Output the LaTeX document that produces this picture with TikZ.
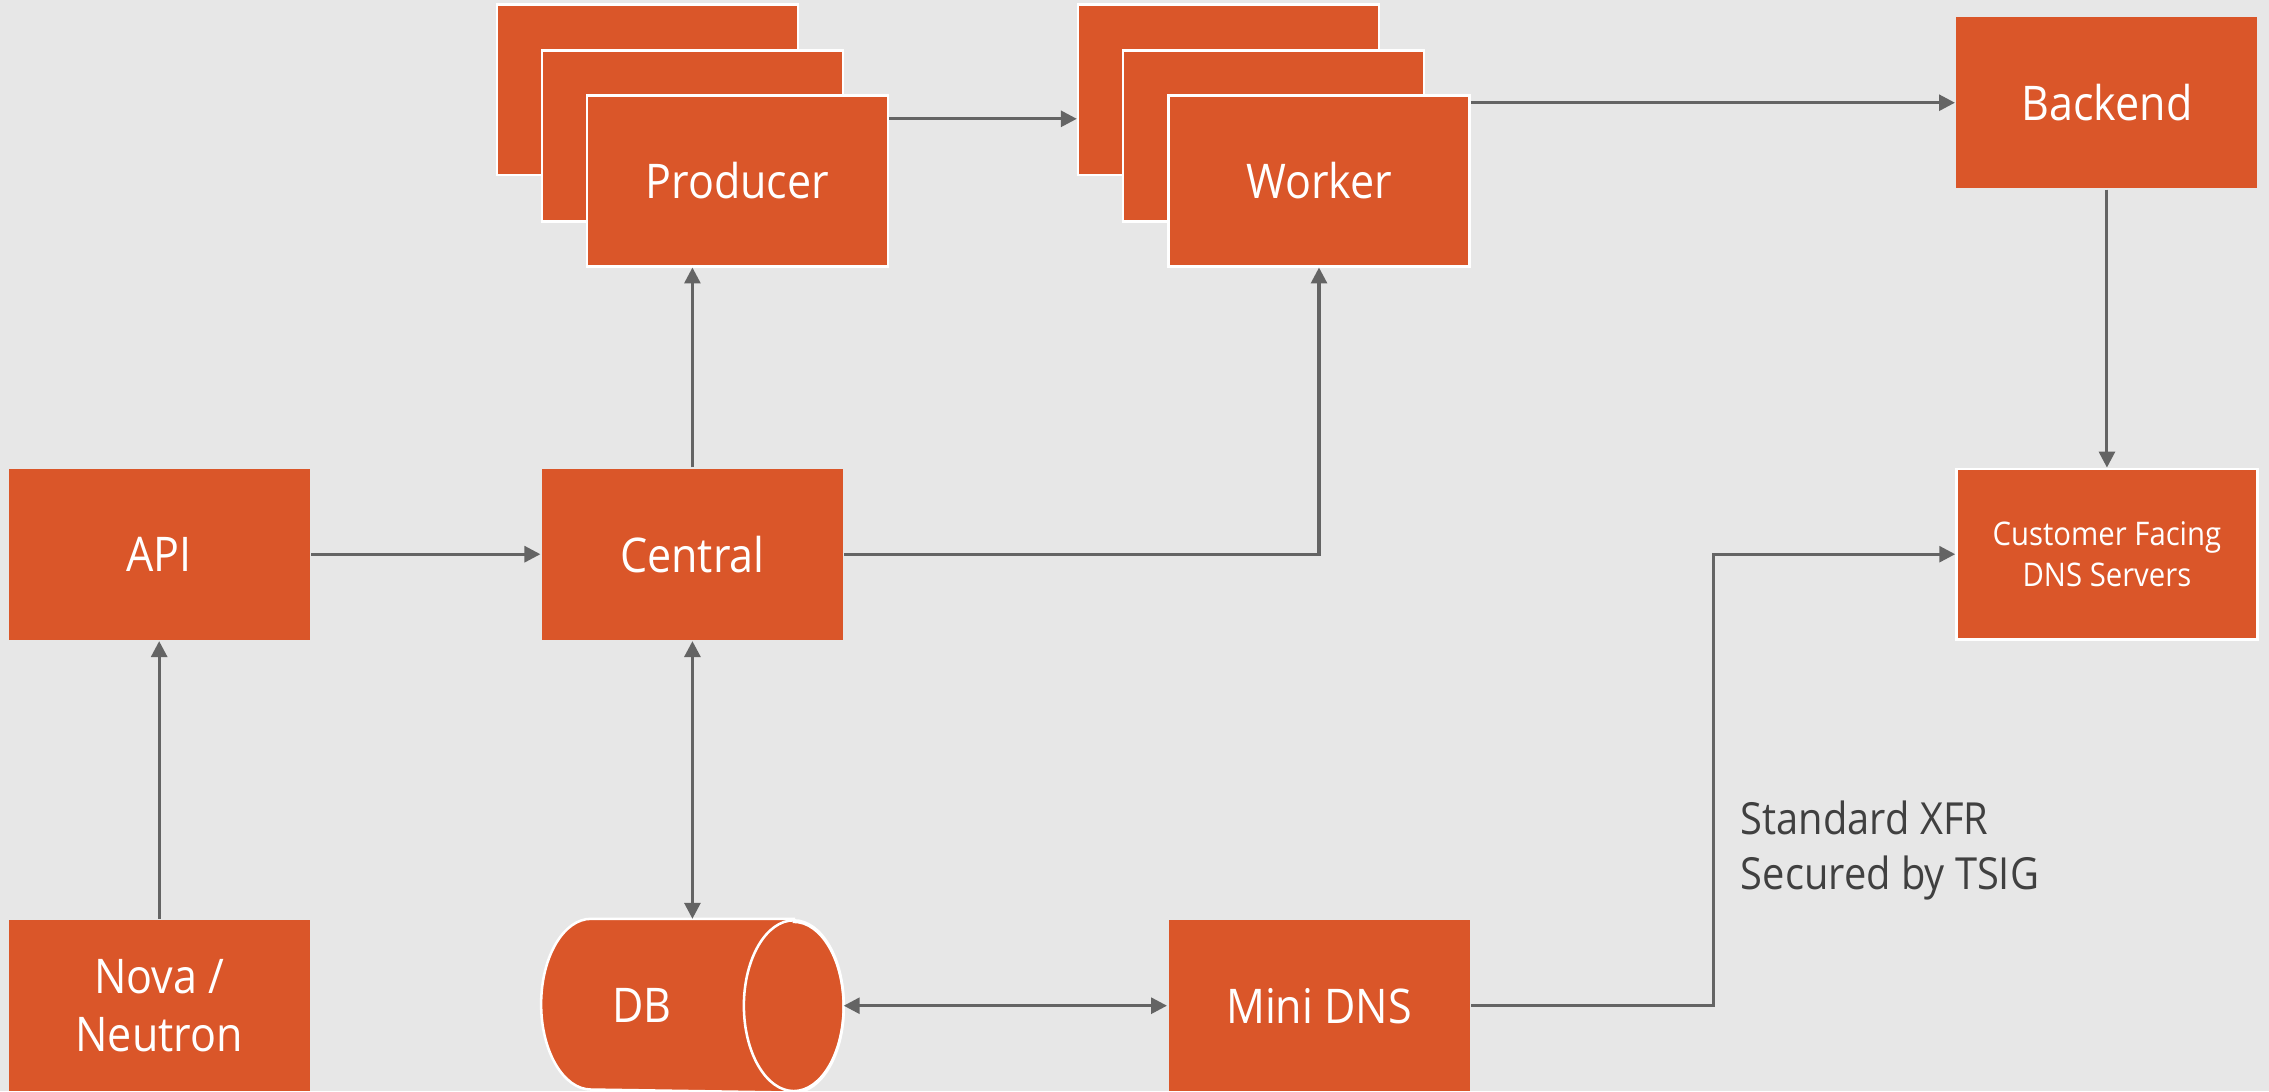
\documentclass[tikz,border=0pt]{standalone}
\usepackage{fontspec}
\setmainfont[FakeStretch=0.9]{Open Sans}
\usepackage{tikz}
\usetikzlibrary{arrows.meta,calc}

\definecolor{dnsorange}{HTML}{DA5629}
\definecolor{bggray}{HTML}{E7E7E7}
\definecolor{linkgray}{HTML}{646464}
\definecolor{notegray}{HTML}{404040}

\begin{document}
\begin{tikzpicture}[line width=0.6pt,
  box/.style={fill=dnsorange, text=white, minimum width=2.08cm, minimum height=1.18cm,
    inner sep=0pt, align=center, font=\fontsize{9.4}{11.3}\selectfont},
  stackbox/.style={box, draw=white, line width=0.5pt},
  link/.style={draw=linkgray, line width=0.6pt, -{Triangle[length=1.1mm,width=1.1mm]}},
  dlink/.style={link, {Triangle[length=1.1mm,width=1.1mm]}-{Triangle[length=1.1mm,width=1.1mm]}}]
  % page: grey slide background, 15.68 x 7.54
  \fill[bggray] (0,0) rectangle (15.68,7.54);
  \useasboundingbox (0,0) rectangle (15.68,7.54);

  % left column
  \node[box] (api) at (1.10,3.71) {API};
  \node[box] (nova) at (1.10,0.59) {Nova /\\Neutron};
  \node[box] (central) at (4.785,3.71) {Central};

  % producer stack (back to front)
  \node[stackbox] (producer3) at (4.475,6.92) {};
  \node[stackbox] (producer2) at (4.785,6.60) {};
  \node[stackbox] (producer) at (5.095,6.29) {Producer};

  % worker stack (back to front)
  \node[stackbox] (worker3) at (8.49,6.92) {};
  \node[stackbox] (worker2) at (8.80,6.60) {};
  \node[stackbox] (worker) at (9.115,6.29) {Worker};

  % storage: cylinder lying on its side, end cap radius 0.345 x 0.59
  \node[box, fill=none, minimum width=2.07cm] (db) at (4.785,0.59) {};
  \filldraw[fill=dnsorange, draw=white, line width=0.5pt]
    ([xshift=-3.45mm]db.north east) -- ([xshift=3.45mm]db.north west)
    arc[start angle=90, end angle=270, x radius=0.345, y radius=0.59]
    -- ([xshift=-3.45mm]db.south east)
    arc[start angle=-90, end angle=90, x radius=0.345, y radius=0.59] -- cycle;
  \draw[white, line width=0.5pt] ([xshift=-3.45mm]db.east) ellipse [x radius=0.345, y radius=0.59];
  \node[text=white, inner sep=0pt, font=\fontsize{9.4}{11.3}\selectfont] (dblabel)
    at ([xshift=-3.5mm]db.center) {DB};

  % mini dns
  \node[box] (minidns) at (9.115,0.59) {Mini DNS};

  % right column
  \node[box] (backend) at (14.56,6.83) {Backend};
  \node[stackbox, font=\fontsize{6.4}{8}\selectfont] (customer) at (14.56,3.71)
    {Customer Facing\\DNS Servers};
  \node[text=notegray, align=left, anchor=west, inner sep=0pt,
    font=\fontsize{8.7}{10.8}\selectfont] (xfrnote) at (12.02,1.66)
    {Standard XFR\\Secured by TSIG};

  % connectors
  \draw[link] (nova.north) -- (api.south);
  \draw[link] (api.east) -- (central.west);
  \draw[link] (central.north) -- (central.north |- producer.south);
  \draw[link] (central.east) -| (worker.south);
  \draw[dlink] (central.south) -- (db.north);
  \draw[dlink] (db.east) -- (minidns.west);
  \draw[link] ([yshift=-1.7mm]producer.north east) -- ([yshift=-1.7mm]producer.north east -| worker3.west);
  \draw[link] (worker.east |- backend.west) -- (backend.west);
  \draw[link] (backend.south) -- (customer.north);
  \coordinate (xfrturn) at (11.84,0.59);
  \draw[link] (minidns.east) -- (xfrturn) |- (customer.west);
\end{tikzpicture}
\end{document}
